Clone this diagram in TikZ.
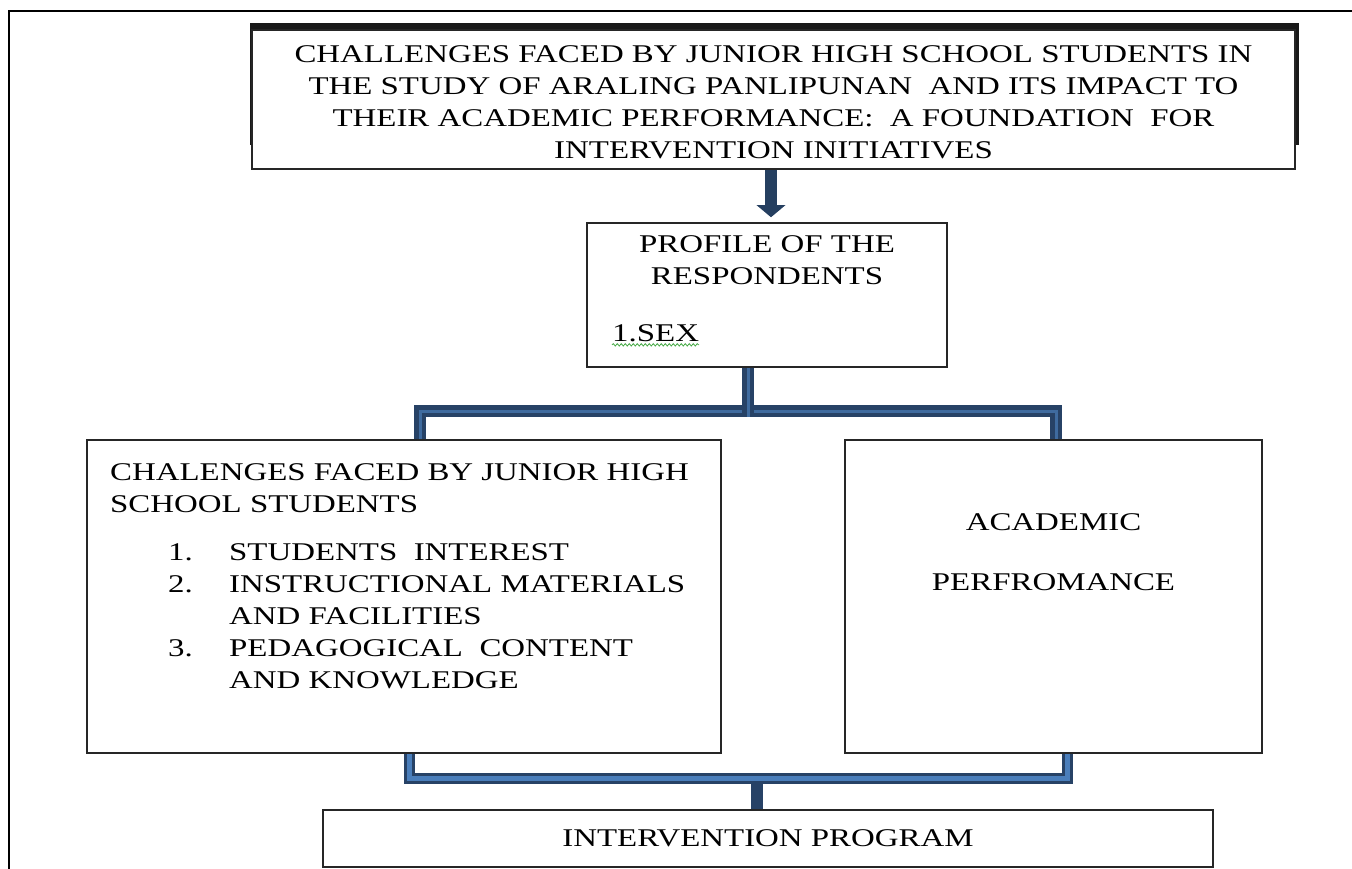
\documentclass[tikz,border=0pt]{standalone}
\usepackage{fontspec}
\setmainfont{Liberation Serif}[FakeStretch=1.29]
\usepackage{xcolor}
\usepackage{tikz}
\usetikzlibrary{calc}
\usetikzlibrary{arrows.meta}
\usetikzlibrary{positioning}
\usetikzlibrary{decorations.pathmorphing}
\tikzset{>=latex}
\definecolor{pipeedge}{RGB}{39,66,102}
\definecolor{pipefill}{RGB}{74,126,187}
\definecolor{arrowblue}{RGB}{37,63,96}
\definecolor{spellgreen}{RGB}{70,170,70}
\tikzstyle{box} = [rectangle, draw = black!85, line width = 1.5pt, fill = white, inner sep = 0]
\tikzstyle{txt} = [draw = none, inner sep = 0]
\tikzstyle{pipe} = [draw = pipeedge, line width = 3pt, double = pipefill, double distance = 5pt]
\tikzstyle{pipedark} = [pipe, line width = 4.5pt, double distance = 3pt, double = pipefill!85!black]
\newcommand{\docfont}{\fontsize{25.5}{32}\selectfont}
\newcommand{\itemno}[1]{\makebox[61pt][l]{#1}}

\begin{document}
\begin{tikzpicture}[x = 1pt, y = -1pt, font = \docfont]
\useasboundingbox (0, 0) rectangle (1352, 869);
\draw [line width = 2pt] (9, 869) -- (9, 11) -- (1352, 11);

% title box, dark edge behind it
\fill [black!90] (250, 23) rectangle (1299, 145);
\node [box, minimum width = 1043pt, minimum height = 139pt] (title) at (773.5, 99.5) {};
\node [txt, align = center, below = 16.5pt of title.north] (titletext) {CHALLENGES FACED BY JUNIOR HIGH SCHOOL STUDENTS IN\\THE STUDY OF ARALING PANLIPUNAN\ \ AND ITS IMPACT TO\\THEIR ACADEMIC PERFORMANCE:\ \ A FOUNDATION\ \ FOR\\INTERVENTION INITIATIVES};

\node [box, minimum width = 360pt, minimum height = 144pt] (profile) at (767, 295) {};
\node [txt, align = center, below = 13.5pt of profile.north] (profhead) {PROFILE OF THE\\RESPONDENTS};
\node [txt, anchor = west] (sex) at (612, 333) {1.SEX};
\draw [spellgreen, line width = 0.8pt, decorate, decoration = {snake, amplitude = 1.2pt, segment length = 4pt}] ([yshift = -3pt]sex.south west) -- ([yshift = -3pt]sex.south east);

\node [box, minimum width = 634pt, minimum height = 313pt] (challenges) at (404, 596.5) {};
\node [txt, align = left, anchor = north west] (chalhead) at (110, 463.5) {CHALENGES FACED BY JUNIOR HIGH\\SCHOOL STUDENTS};
\node [txt, align = left, anchor = north west] (chalitems) at (168, 543.5) {\itemno{1.}STUDENTS\ \ INTEREST\\\itemno{2.}INSTRUCTIONAL MATERIALS\\\itemno{}AND FACILITIES\\\itemno{3.}PEDAGOGICAL\ \ CONTENT\\\itemno{}AND KNOWLEDGE};

\node [box, minimum width = 417pt, minimum height = 313pt] (performance) at (1053.5, 596.5) {};
\node [txt, align = center, below = 74.5pt of performance.north] (perftext) {ACADEMIC\\[28pt]PERFROMANCE};

\node [box, minimum width = 890pt, minimum height = 57pt] (program) at (768, 838.5) {INTERVENTION PROGRAM};

% arrow down to the profile
\coordinate (arrowx) at (771, 0);
\draw [arrowblue, line width = 12pt, -{Triangle[width = 28pt, length = 12pt]}, shorten > = 5pt] (title.south -| arrowx) -- (profile.north -| arrowx);

% upper split
\coordinate (topsplit) at (748, 411);
\coordinate (topleft) at (420, 411);
\coordinate (topright) at (1056, 411);
\draw [pipedark] (challenges.north -| topleft) |- (topsplit) -| (performance.north -| topright);
\draw [pipedark] (profile.south -| topsplit) -- ([yshift = -6pt]topsplit);

% lower join
\coordinate (lowsplit) at (757, 778);
\coordinate (lowleft) at (409, 778);
\coordinate (lowright) at (1067, 778);
\draw [pipe] (challenges.south -| lowleft) |- (lowsplit) -| (performance.south -| lowright);
\draw [draw = pipeedge, line width = 12pt] ([yshift = -5.5pt]lowsplit) -- (program.north -| lowsplit);
\end{tikzpicture}
\end{document}
